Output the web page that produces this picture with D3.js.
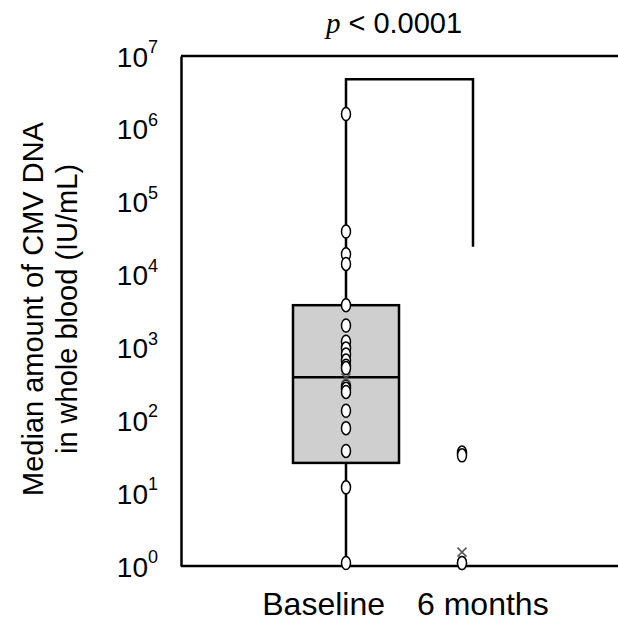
<!DOCTYPE html>
<html lang="en">
<head>
    <meta charset="UTF-8">
    <title>box</title>
    <script src="https://d3js.org/d3.v7.min.js"></script>
    <style>
        body { margin: 0; background: #fff; }
        text { font-family: "Liberation Sans", Arial, sans-serif; fill: #000; }
    </style>
</head>
<body>
<script>
    const width = 618
    const height = 623
    // data
    const groups = ['Baseline', '6 months']
    const baselineValues = [1.6e6, 3.9e4, 1.9e4, 1.4e4, 3.8e3, 2.0e3, 1.2e3, 970, 800, 660, 560, 520, 290, 270, 245, 135, 78, 38, 12, 1.1]
    const sixMonthValues = [36, 33, 1.1, 1.1]
    // box stats: min, q1, median, q3, max
    const boxStats = [[1.1, 26, 390, 3800, 1.6e6], [1.1, 1.1, 1.1, 1.1, 1.1]]
    const means = [380, 1.55]
    const yTicks = [1, 10, 100, 1e3, 1e4, 1e5, 1e6, 1e7]
    const bracket = {top: 4.8e6, left: 1.6e6, right: 2.4e4}
    const pLabel = '< 0.0001'

    const svg = d3.select("body")
        .append("svg")
        .attr("width", width)
        .attr("height", height)

    const plotLeft = 181, plotBottom = 566, plotTop = 56
    const xScale = d3.scalePoint()
        .domain(groups)
        .range([346, 462])
    const yScale = d3.scaleLog()
        .domain([1, 1e7])
        .range([plotBottom, plotTop])

    // frame lines (top and bottom run to the edge)
    svg.append("line")
        .attr("x1", plotLeft).attr("x2", width)
        .attr("y1", plotTop).attr("y2", plotTop)
        .attr("stroke", "#000").attr("stroke-width", 2.5)
    svg.append("line")
        .attr("x1", plotLeft).attr("x2", width)
        .attr("y1", plotBottom).attr("y2", plotBottom)
        .attr("stroke", "#000").attr("stroke-width", 2.5)

    const yAxis = d3.axisLeft(yScale)
        .tickValues(yTicks)
        .tickSize(0)
        .tickPadding(23)
        .tickFormat(d => "")
    const gy = svg.append("g")
        .attr("transform", "translate(" + plotLeft + ",0)")
        .call(yAxis)
    gy.select(".domain").attr("stroke", "#000").attr("stroke-width", 2.5)
    gy.selectAll(".tick text").each(function (d) {
        const t = d3.select(this)
            .attr("font-size", 28)
            .attr("font-family", "Liberation Sans, Arial, sans-serif")
            .attr("dy", "0.36em")
        t.append("tspan").text("10")
        t.append("tspan").text(Math.round(Math.log10(d)))
            .attr("font-size", 18)
            .attr("dy", "-0.75em")
    })

    // y title
    svg.append("text")
        .attr("transform", "translate(43,309) rotate(-90)")
        .attr("text-anchor", "middle")
        .attr("font-size", 29)
        .text("Median amount of CMV DNA")
    svg.append("text")
        .attr("transform", "translate(77,309) rotate(-90)")
        .attr("text-anchor", "middle")
        .attr("font-size", 29)
        .text("in whole blood (IU/mL)")

    // x labels
    svg.append("text")
        .attr("x", xScale(groups[0]) + 39)
        .attr("y", 615)
        .attr("text-anchor", "end")
        .attr("font-size", 32)
        .text(groups[0])
    svg.append("text")
        .attr("x", xScale(groups[1]) - 45)
        .attr("y", 615)
        .attr("text-anchor", "start")
        .attr("font-size", 32)
        .text(groups[1])

    // title
    const title = svg.append("text")
        .attr("x", 394)
        .attr("y", 33)
        .attr("text-anchor", "middle")
        .attr("font-size", 29)
    title.append("tspan")
        .text("p")
        .attr("font-family", "Liberation Serif, Times New Roman, serif")
        .attr("font-style", "italic")
    title.append("tspan").text(" " + pLabel)

    // whiskers + boxes
    const boxW = 106
    boxStats.forEach(function (s, i) {
        const cx = xScale(groups[i])
        svg.append("line")
            .attr("x1", cx).attr("x2", cx)
            .attr("y1", yScale(s[0])).attr("y2", yScale(s[4]))
            .attr("stroke", "#000").attr("stroke-width", 2.5)
        if (s[3] > s[1]) {
            svg.append("rect")
                .attr("x", cx - boxW / 2)
                .attr("y", yScale(s[3]))
                .attr("width", boxW)
                .attr("height", yScale(s[1]) - yScale(s[3]))
                .attr("fill", "#d0cfd0")
                .attr("stroke", "#000")
                .attr("stroke-width", 2.5)
            svg.append("line")
                .attr("x1", cx - boxW / 2).attr("x2", cx + boxW / 2)
                .attr("y1", yScale(s[2])).attr("y2", yScale(s[2]))
                .attr("stroke", "#000").attr("stroke-width", 2.5)
        }
    })

    // significance bracket
    const bx1 = xScale(groups[0]), bx2 = xScale(groups[1]) + 11
    svg.append("path")
        .attr("d", "M" + bx1 + "," + yScale(bracket.left) +
            "V" + yScale(bracket.top) + "H" + bx2 + "V" + yScale(bracket.right))
        .attr("fill", "none")
        .attr("stroke", "#000")
        .attr("stroke-width", 2.5)

    // points
    const allPoints = [baselineValues, sixMonthValues]
    allPoints.forEach(function (vals, i) {
        svg.append("g")
            .selectAll("ellipse")
            .data(vals)
            .enter()
            .append("ellipse")
            .attr("cx", xScale(groups[i]))
            .attr("cy", d => yScale(d))
            .attr("rx", 4.5)
            .attr("ry", 6.5)
            .attr("fill", "#fff")
            .attr("stroke", "#000")
            .attr("stroke-width", 1.5)
    })

    // mean markers
    svg.append("g")
        .selectAll("path")
        .data(means)
        .enter()
        .append("path")
        .attr("d", function (d, i) {
            const x = xScale(groups[i]), y = yScale(d), r = 4.5
            return "M" + (x - r) + "," + (y - r) + "L" + (x + r) + "," + (y + r) +
                "M" + (x - r) + "," + (y + r) + "L" + (x + r) + "," + (y - r)
        })
        .attr("stroke", "#555")
        .attr("stroke-width", 1.5)
</script>
</body>
</html>
